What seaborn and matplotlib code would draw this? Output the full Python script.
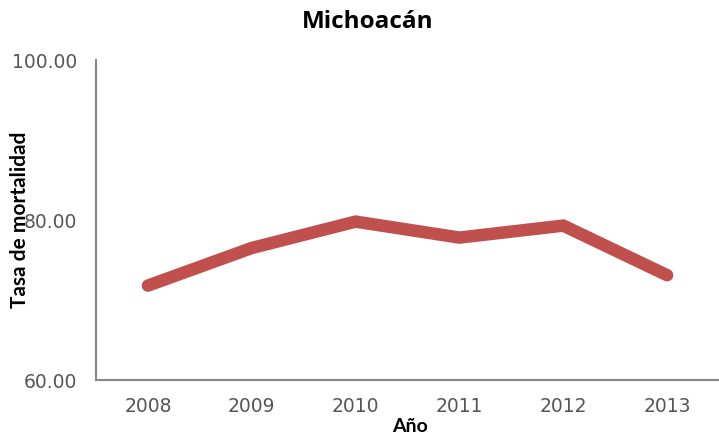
import matplotlib
matplotlib.use("Agg")
import matplotlib.pyplot as plt
import seaborn as sns
import pandas as pd

# datos
anios = ["2008", "2009", "2010", "2011", "2012", "2013"]
tasa = [71.8, 76.5, 79.8, 77.8, 79.3, 73.1]

df = pd.DataFrame({"Año": anios, "Tasa": tasa})

sns.set_style("white")
plt.rcParams["font.family"] = ["Lato", "DejaVu Sans"]

fig = plt.figure(figsize=(7.19, 4.42), dpi=100)
ax = fig.add_axes([96 / 719, 62 / 442, 1 - 96 / 719, 320 / 442])

sns.lineplot(data=df, x="Año", y="Tasa", color="#C0504D", linewidth=9,
             solid_capstyle="round", solid_joinstyle="miter", sort=False, ax=ax)

ax.set_xlim(-0.5, 5.5)
ax.set_ylim(60, 100)
ax.set_yticks([60, 80, 100])
ax.set_yticklabels(["60.00", "80.00", "100.00"])

for side in ["top", "right"]:
    ax.spines[side].set_visible(False)
for side in ["left", "bottom"]:
    ax.spines[side].set_color("#868686")
    ax.spines[side].set_linewidth(1.5)

ax.tick_params(axis="both", length=0, labelsize=13.5, colors="#555555")
ax.tick_params(axis="x", pad=12)
ax.tick_params(axis="y", pad=13.5)
for lbl in ax.get_xticklabels() + ax.get_yticklabels():
    lbl.set_family("DejaVu Sans")

ax.set_xlabel("")
ax.set_ylabel("")
fig.text(410 / 719, 1 - 427 / 442, "Año", ha="center", va="center",
         fontsize=14, fontweight="bold", color="black")
fig.text(20 / 719, 1 - 220 / 442, "Tasa de mortalidad", rotation=90,
         ha="center", va="center", fontsize=15, fontweight="bold", color="black")

fig.text(368 / 719, 1 - 22 / 442, "Michoacán", ha="center", va="center",
         fontsize=17.5, fontweight="bold", family="Open Sans", color="black")

fig.savefig("out.png", dpi=100)
